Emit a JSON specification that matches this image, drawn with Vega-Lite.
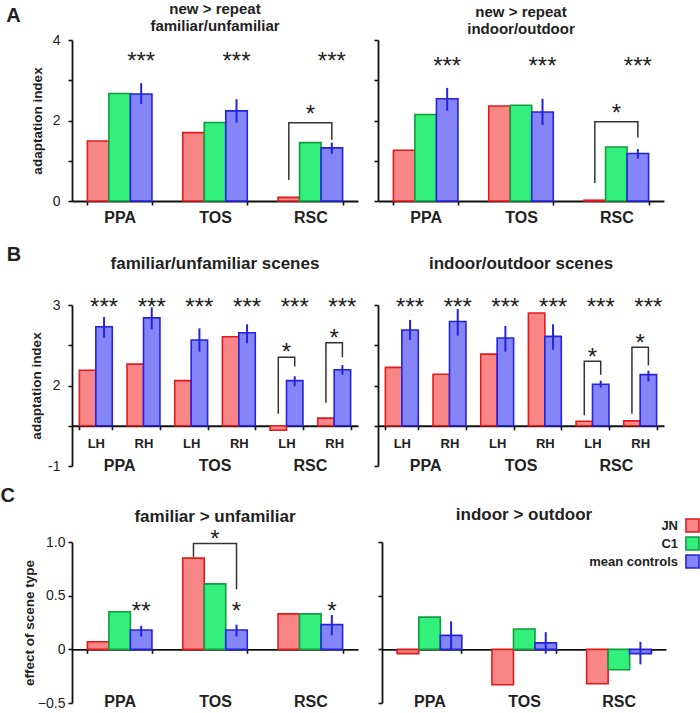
{
"$schema":"https://vega.github.io/schema/vega-lite/v6.json",
"padding":{"left":0,"top":2,"right":0,"bottom":0},
"background":"white",
"config":{"font":"Liberation Sans","view":{"stroke":null},
 "axis":{"grid":false,"domainColor":"#111","domainWidth":1.8,"tickColor":"#111","tickWidth":1.6,"tickSize":4,"labelColor":"#222","titleColor":"#222","labelFont":"Liberation Sans","titleFont":"Liberation Sans"},
 "title":{"font":"Liberation Sans","fontWeight":"bold","color":"#222"},
 "text":{"font":"Liberation Sans"}},
"datasets":{
 "aL":[{"roi":"PPA","s":"JN","v":1.49},{"roi":"PPA","s":"C1","v":2.67},{"roi":"PPA","s":"mean controls","v":2.66},{"roi":"TOS","s":"JN","v":1.70},{"roi":"TOS","s":"C1","v":1.95},{"roi":"TOS","s":"mean controls","v":2.24},{"roi":"RSC","s":"JN","v":0.09},{"roi":"RSC","s":"C1","v":1.45},{"roi":"RSC","s":"mean controls","v":1.32}],
 "aLe":[{"roi":"PPA","s":"mean controls","lo":2.41,"hi":2.93},{"roi":"TOS","s":"mean controls","lo":1.95,"hi":2.53},{"roi":"RSC","s":"mean controls","lo":1.17,"hi":1.45}],
 "aLs":[{"roi":"PPA","s":"mean controls","v":3.28,"t":"***"},{"roi":"TOS","s":"mean controls","v":3.28,"t":"***"},{"roi":"RSC","s":"mean controls","v":3.28,"t":"***"},{"roi":"RSC","s":"C1","v":1.97,"t":"*"}],
 "aLb":[{"roi":"RSC","s":"JN","v":0.52,"o":1},{"roi":"RSC","s":"JN","v":1.945,"o":2},{"roi":"RSC","s":"mean controls","v":1.945,"o":3},{"roi":"RSC","s":"mean controls","v":1.52,"o":4}],
 "aR":[{"roi":"PPA","s":"JN","v":1.26},{"roi":"PPA","s":"C1","v":2.15},{"roi":"PPA","s":"mean controls","v":2.54},{"roi":"TOS","s":"JN","v":2.36},{"roi":"TOS","s":"C1","v":2.38},{"roi":"TOS","s":"mean controls","v":2.21},{"roi":"RSC","s":"JN","v":0.02},{"roi":"RSC","s":"C1","v":1.34},{"roi":"RSC","s":"mean controls","v":1.18}],
 "aRe":[{"roi":"PPA","s":"mean controls","lo":2.24,"hi":2.81},{"roi":"TOS","s":"mean controls","lo":1.89,"hi":2.54},{"roi":"RSC","s":"mean controls","lo":1.05,"hi":1.29}],
 "aRs":[{"roi":"PPA","s":"mean controls","v":3.16,"t":"***"},{"roi":"TOS","s":"mean controls","v":3.16,"t":"***"},{"roi":"RSC","s":"mean controls","v":3.16,"t":"***"},{"roi":"RSC","s":"C1","v":1.99,"t":"*"}],
 "aRb":[{"roi":"RSC","s":"JN","v":0.45,"o":1},{"roi":"RSC","s":"JN","v":1.97,"o":2},{"roi":"RSC","s":"mean controls","v":1.97,"o":3},{"roi":"RSC","s":"mean controls","v":1.58,"o":4}],
 "bL":[{"rh":"PPA LH","s":"JN","v":1.38},{"rh":"PPA LH","s":"mean controls","v":2.46},{"rh":"PPA RH","s":"JN","v":1.53},{"rh":"PPA RH","s":"mean controls","v":2.68},{"rh":"TOS LH","s":"JN","v":1.12},{"rh":"TOS LH","s":"mean controls","v":2.13},{"rh":"TOS RH","s":"JN","v":2.21},{"rh":"TOS RH","s":"mean controls","v":2.31},{"rh":"RSC LH","s":"JN","v":-0.11},{"rh":"RSC LH","s":"mean controls","v":1.12},{"rh":"RSC RH","s":"JN","v":0.19},{"rh":"RSC RH","s":"mean controls","v":1.39}],
 "bLe":[{"rh":"PPA LH","s":"mean controls","lo":2.19,"hi":2.70},{"rh":"PPA RH","s":"mean controls","lo":2.40,"hi":2.94},{"rh":"TOS LH","s":"mean controls","lo":1.84,"hi":2.42},{"rh":"TOS RH","s":"mean controls","lo":2.05,"hi":2.52},{"rh":"RSC LH","s":"mean controls","lo":0.98,"hi":1.23},{"rh":"RSC RH","s":"mean controls","lo":1.27,"hi":1.51}],
 "bLs":[{"rh":"PPA LH","s":"mean controls","v":2.75,"t":"***"},{"rh":"PPA RH","s":"mean controls","v":2.75,"t":"***"},{"rh":"TOS LH","s":"mean controls","v":2.75,"t":"***"},{"rh":"TOS RH","s":"mean controls","v":2.75,"t":"***"},{"rh":"RSC LH","s":"mean controls","v":2.75,"t":"***"},{"rh":"RSC RH","s":"mean controls","v":2.75,"t":"***"}],
 "bLs2":[{"rh":"RSC LH","v":1.64,"t":"*"},{"rh":"RSC RH","v":1.98,"t":"*"}],
 "bLb":[{"rh":"RSC LH","s":"JN","v":0.30,"o":1,"g":"a"},{"rh":"RSC LH","s":"JN","v":1.70,"o":2,"g":"a"},{"rh":"RSC LH","s":"mean controls","v":1.70,"o":3,"g":"a"},{"rh":"RSC LH","s":"mean controls","v":1.47,"o":4,"g":"a"},{"rh":"RSC RH","s":"JN","v":0.57,"o":1,"g":"b"},{"rh":"RSC RH","s":"JN","v":2.06,"o":2,"g":"b"},{"rh":"RSC RH","s":"mean controls","v":2.06,"o":3,"g":"b"},{"rh":"RSC RH","s":"mean controls","v":1.70,"o":4,"g":"b"}],
 "bR":[{"rh":"PPA LH","s":"JN","v":1.45},{"rh":"PPA LH","s":"mean controls","v":2.38},{"rh":"PPA RH","s":"JN","v":1.28},{"rh":"PPA RH","s":"mean controls","v":2.59},{"rh":"TOS LH","s":"JN","v":1.78},{"rh":"TOS LH","s":"mean controls","v":2.18},{"rh":"TOS RH","s":"JN","v":2.80},{"rh":"TOS RH","s":"mean controls","v":2.22},{"rh":"RSC LH","s":"JN","v":0.11},{"rh":"RSC LH","s":"mean controls","v":1.03},{"rh":"RSC RH","s":"JN","v":0.12},{"rh":"RSC RH","s":"mean controls","v":1.27}],
 "bRe":[{"rh":"PPA LH","s":"mean controls","lo":2.13,"hi":2.63},{"rh":"PPA RH","s":"mean controls","lo":2.24,"hi":2.90},{"rh":"TOS LH","s":"mean controls","lo":1.84,"hi":2.48},{"rh":"TOS RH","s":"mean controls","lo":1.89,"hi":2.52},{"rh":"RSC LH","s":"mean controls","lo":0.95,"hi":1.12},{"rh":"RSC RH","s":"mean controls","lo":1.10,"hi":1.37}],
 "bRs":[{"rh":"PPA LH","s":"mean controls","v":2.75,"t":"***"},{"rh":"PPA RH","s":"mean controls","v":2.75,"t":"***"},{"rh":"TOS LH","s":"mean controls","v":2.75,"t":"***"},{"rh":"TOS RH","s":"mean controls","v":2.75,"t":"***"},{"rh":"RSC LH","s":"mean controls","v":2.75,"t":"***"},{"rh":"RSC RH","s":"mean controls","v":2.75,"t":"***"}],
 "bRs2":[{"rh":"RSC LH","v":1.50,"t":"*"},{"rh":"RSC RH","v":1.86,"t":"*"}],
 "bRb":[{"rh":"RSC LH","s":"JN","v":0.26,"o":1,"g":"a"},{"rh":"RSC LH","s":"JN","v":1.60,"o":2,"g":"a"},{"rh":"RSC LH","s":"mean controls","v":1.60,"o":3,"g":"a"},{"rh":"RSC LH","s":"mean controls","v":1.27,"o":4,"g":"a"},{"rh":"RSC RH","s":"JN","v":0.30,"o":1,"g":"b"},{"rh":"RSC RH","s":"JN","v":1.95,"o":2,"g":"b"},{"rh":"RSC RH","s":"mean controls","v":1.95,"o":3,"g":"b"},{"rh":"RSC RH","s":"mean controls","v":1.50,"o":4,"g":"b"}],
 "roi":[{"roi":"PPA"},{"roi":"TOS"},{"roi":"RSC"}],
 "cL":[{"roi":"PPA","s":"JN","v":0.07},{"roi":"PPA","s":"C1","v":0.35},{"roi":"PPA","s":"mean controls","v":0.18},{"roi":"TOS","s":"JN","v":0.85},{"roi":"TOS","s":"C1","v":0.61},{"roi":"TOS","s":"mean controls","v":0.18},{"roi":"RSC","s":"JN","v":0.33},{"roi":"RSC","s":"C1","v":0.33},{"roi":"RSC","s":"mean controls","v":0.23}],
 "cLe":[{"roi":"PPA","s":"mean controls","lo":0.12,"hi":0.22},{"roi":"TOS","s":"mean controls","lo":0.12,"hi":0.23},{"roi":"RSC","s":"mean controls","lo":0.13,"hi":0.32}],
 "cLs":[{"roi":"PPA","s":"mean controls","v":0.28,"t":"**"},{"roi":"TOS","s":"mean controls","v":0.28,"t":"*"},{"roi":"RSC","s":"mean controls","v":0.28,"t":"*"},{"roi":"TOS","s":"C1","v":0.95,"t":"*"}],
 "cLb":[{"roi":"TOS","s":"JN","v":0.86,"o":1},{"roi":"TOS","s":"JN","v":0.985,"o":2},{"roi":"TOS","s":"mean controls","v":0.985,"o":3},{"roi":"TOS","s":"mean controls","v":0.56,"o":4}],
 "cR":[{"roi":"PPA","s":"JN","v":-0.04},{"roi":"PPA","s":"C1","v":0.30},{"roi":"PPA","s":"mean controls","v":0.13},{"roi":"TOS","s":"JN","v":-0.33},{"roi":"TOS","s":"C1","v":0.19},{"roi":"TOS","s":"mean controls","v":0.06},{"roi":"RSC","s":"JN","v":-0.32},{"roi":"RSC","s":"C1","v":-0.19},{"roi":"RSC","s":"mean controls","v":-0.04}],
 "cRe":[{"roi":"PPA","s":"mean controls","lo":0.0,"hi":0.26},{"roi":"TOS","s":"mean controls","lo":-0.04,"hi":0.16},{"roi":"RSC","s":"mean controls","lo":-0.14,"hi":0.07}]
},
"vconcat":[
 {"spacing":20,"vconcat":[
 {"title":{"text":"A","orient":"left","anchor":"end","angle":0,"align":"right","baseline":"top","fontSize":20,"offset":-5,"dy":4},
  "resolve":{"scale":{"fill":"independent","stroke":"independent"}},
  "spacing":15,
  "hconcat":[
  {"width":286,"height":161,
   "title":{"text":["new > repeat","familiar/unfamiliar"],"fontSize":15,"lineHeight":17,"offset":-1},
   "layer":[
    {"data":{"name":"aL"},"mark":{"type":"bar","strokeWidth":1.6},
     "encoding":{
      "x":{"field":"roi","type":"nominal","scale":{"domain":["PPA","TOS","RSC"],"paddingInner":0.323,"paddingOuter":0.1615},"axis":{"title":null,"labelAngle":0,"labelFontSize":16,"labelFontWeight":"bold","tickBand":"extent","labelPadding":4}},
      "xOffset":{"field":"s","type":"nominal","scale":{"domain":["JN","C1","mean controls"],"paddingInner":0,"paddingOuter":0}},
      "y":{"field":"v","type":"quantitative","scale":{"domain":[0,4],"nice":false,"zero":false},"axis":{"title":"adaptation index","values":[0,1,2,3,4],"labelExpr":"datum.value%2==0?datum.label:''","titlePadding":8,"labelPadding":8,"labelFontSize":14,"titleFontSize":13.5,"titleFontWeight":"bold"}},
      "fill":{"field":"s","type":"nominal","scale":{"domain":["JN","C1","mean controls"],"range":["#f98686","#33ef7b","#8585f8"]},"legend":null},
      "stroke":{"field":"s","type":"nominal","scale":{"domain":["JN","C1","mean controls"],"range":["#e31a1c","#119c3f","#2323dd"]},"legend":null}}},
    {"data":{"name":"aLe"},"mark":{"type":"rule","color":"#2323dd","strokeWidth":2},"encoding":{"x":{"field":"roi","type":"nominal"},"xOffset":{"field":"s","type":"nominal"},"y":{"field":"lo","type":"quantitative"},"y2":{"field":"hi"}}},
    {"data":{"name":"aLs"},"mark":{"type":"text","fontSize":24,"baseline":"alphabetic","color":"#222"},"encoding":{"x":{"field":"roi","type":"nominal"},"xOffset":{"field":"s","type":"nominal"},"y":{"field":"v","type":"quantitative"},"text":{"field":"t"}}},
    {"data":{"name":"aLb"},"mark":{"type":"line","color":"#333","strokeWidth":1.5},"encoding":{"x":{"field":"roi","type":"nominal"},"xOffset":{"field":"s","type":"nominal"},"y":{"field":"v","type":"quantitative"},"order":{"field":"o"}}}
   ]},
  {"width":286,"height":161,
   "title":{"text":["new > repeat","indoor/outdoor"],"fontSize":15,"lineHeight":17,"offset":2},
   "layer":[
    {"data":{"name":"aR"},"mark":{"type":"bar","strokeWidth":1.6},
     "encoding":{
      "x":{"field":"roi","type":"nominal","scale":{"domain":["PPA","TOS","RSC"],"paddingInner":0.323,"paddingOuter":0.1615},"axis":{"title":null,"labelAngle":0,"labelFontSize":16,"labelFontWeight":"bold","tickBand":"extent","labelPadding":4}},
      "xOffset":{"field":"s","type":"nominal","scale":{"domain":["JN","C1","mean controls"],"paddingInner":0,"paddingOuter":0}},
      "y":{"field":"v","type":"quantitative","scale":{"domain":[0,4],"nice":false,"zero":false},"axis":{"title":null,"labels":false,"values":[0,1,2,3,4]}},
      "fill":{"field":"s","type":"nominal","scale":{"domain":["JN","C1","mean controls"],"range":["#f98686","#33ef7b","#8585f8"]},"legend":null},
      "stroke":{"field":"s","type":"nominal","scale":{"domain":["JN","C1","mean controls"],"range":["#e31a1c","#119c3f","#2323dd"]},"legend":null}}},
    {"data":{"name":"aRe"},"mark":{"type":"rule","color":"#2323dd","strokeWidth":2},"encoding":{"x":{"field":"roi","type":"nominal"},"xOffset":{"field":"s","type":"nominal"},"y":{"field":"lo","type":"quantitative"},"y2":{"field":"hi"}}},
    {"data":{"name":"aRs"},"mark":{"type":"text","fontSize":24,"baseline":"alphabetic","color":"#222"},"encoding":{"x":{"field":"roi","type":"nominal"},"xOffset":{"field":"s","type":"nominal"},"y":{"field":"v","type":"quantitative"},"text":{"field":"t"}}},
    {"data":{"name":"aRb"},"mark":{"type":"line","color":"#333","strokeWidth":1.5},"encoding":{"x":{"field":"roi","type":"nominal"},"xOffset":{"field":"s","type":"nominal"},"y":{"field":"v","type":"quantitative"},"order":{"field":"o"}}}
   ]}
 ]},
 {"title":{"text":"B","orient":"left","anchor":"end","angle":0,"align":"right","baseline":"top","fontSize":20,"offset":-6,"dy":-10},
  "resolve":{"scale":{"fill":"independent","stroke":"independent"}},
  "spacing":15,
  "hconcat":[
  {"width":286,"height":161,
   "title":{"text":"familiar/unfamiliar scenes","fontSize":17,"offset":23},
   "resolve":{"scale":{"x":"independent","xOffset":"independent"}},
   "layer":[
    {"layer":[
     {"data":{"name":"bL"},"mark":{"type":"bar","strokeWidth":1.6},
      "encoding":{
       "x":{"field":"rh","type":"nominal","scale":{"domain":["PPA LH","PPA RH","TOS LH","TOS RH","RSC LH","RSC RH"],"paddingInner":0.31,"paddingOuter":0.155},"axis":{"title":null,"labelAngle":0,"labelFontSize":13,"labelFontWeight":"bold","tickBand":"extent","labelPadding":8,"offset":-40.25,"labelExpr":"split(datum.label,' ')[1]"}},
       "xOffset":{"field":"s","type":"nominal","scale":{"domain":["JN","mean controls"],"paddingInner":0,"paddingOuter":0}},
       "y":{"field":"v","type":"quantitative","scale":{"domain":[-1,3],"nice":false,"zero":false},"axis":{"title":"adaptation index","values":[-1,0,1,2,3],"labelExpr":"datum.value==3?'3':datum.value==1?'2':datum.value==-1?'-1':''","titlePadding":4,"labelPadding":8,"labelFontSize":14,"titleFontSize":13.5,"titleFontWeight":"bold"}},
       "fill":{"field":"s","type":"nominal","scale":{"domain":["JN","C1","mean controls"],"range":["#f98686","#33ef7b","#8585f8"]},"legend":null},
       "stroke":{"field":"s","type":"nominal","scale":{"domain":["JN","C1","mean controls"],"range":["#e31a1c","#119c3f","#2323dd"]},"legend":null}}},
     {"data":{"name":"bLe"},"mark":{"type":"rule","color":"#2323dd","strokeWidth":2},"encoding":{"x":{"field":"rh","type":"nominal"},"xOffset":{"field":"s","type":"nominal"},"y":{"field":"lo","type":"quantitative"},"y2":{"field":"hi"}}},
     {"data":{"name":"bLs"},"mark":{"type":"text","fontSize":24,"baseline":"alphabetic","color":"#222"},"encoding":{"x":{"field":"rh","type":"nominal"},"xOffset":{"field":"s","type":"nominal"},"y":{"field":"v","type":"quantitative"},"text":{"field":"t"}}},
     {"data":{"name":"bLs2"},"mark":{"type":"text","fontSize":24,"baseline":"alphabetic","color":"#222"},"encoding":{"x":{"field":"rh","type":"nominal"},"y":{"field":"v","type":"quantitative"},"text":{"field":"t"}}},
     {"data":{"name":"bLb"},"mark":{"type":"line","color":"#333","strokeWidth":1.5},"encoding":{"x":{"field":"rh","type":"nominal"},"xOffset":{"field":"s","type":"nominal"},"y":{"field":"v","type":"quantitative"},"detail":{"field":"g"},"order":{"field":"o"}}}
    ]},
    {"data":{"name":"roi"},"mark":{"type":"text","fontSize":16,"fontWeight":"bold","baseline":"middle","color":"#222"},"encoding":{"x":{"field":"roi","type":"nominal","scale":{"domain":["PPA","TOS","RSC"],"paddingInner":0,"paddingOuter":0},"axis":null},"y":{"datum":-1.0},"text":{"field":"roi"}}}
   ]},
  {"width":286,"height":161,
   "title":{"text":"indoor/outdoor scenes","fontSize":17,"offset":23},
   "resolve":{"scale":{"x":"independent","xOffset":"independent"}},
   "layer":[
    {"layer":[
     {"data":{"name":"bR"},"mark":{"type":"bar","strokeWidth":1.6},
      "encoding":{
       "x":{"field":"rh","type":"nominal","scale":{"domain":["PPA LH","PPA RH","TOS LH","TOS RH","RSC LH","RSC RH"],"paddingInner":0.31,"paddingOuter":0.155},"axis":{"title":null,"labelAngle":0,"labelFontSize":13,"labelFontWeight":"bold","tickBand":"extent","labelPadding":8,"offset":-40.25,"labelExpr":"split(datum.label,' ')[1]"}},
       "xOffset":{"field":"s","type":"nominal","scale":{"domain":["JN","mean controls"],"paddingInner":0,"paddingOuter":0}},
       "y":{"field":"v","type":"quantitative","scale":{"domain":[-1,3],"nice":false,"zero":false},"axis":{"title":null,"labels":false,"values":[-1,0,1,2,3]}},
       "fill":{"field":"s","type":"nominal","scale":{"domain":["JN","C1","mean controls"],"range":["#f98686","#33ef7b","#8585f8"]},"legend":null},
       "stroke":{"field":"s","type":"nominal","scale":{"domain":["JN","C1","mean controls"],"range":["#e31a1c","#119c3f","#2323dd"]},"legend":null}}},
     {"data":{"name":"bRe"},"mark":{"type":"rule","color":"#2323dd","strokeWidth":2},"encoding":{"x":{"field":"rh","type":"nominal"},"xOffset":{"field":"s","type":"nominal"},"y":{"field":"lo","type":"quantitative"},"y2":{"field":"hi"}}},
     {"data":{"name":"bRs"},"mark":{"type":"text","fontSize":24,"baseline":"alphabetic","color":"#222"},"encoding":{"x":{"field":"rh","type":"nominal"},"xOffset":{"field":"s","type":"nominal"},"y":{"field":"v","type":"quantitative"},"text":{"field":"t"}}},
     {"data":{"name":"bRs2"},"mark":{"type":"text","fontSize":24,"baseline":"alphabetic","color":"#222"},"encoding":{"x":{"field":"rh","type":"nominal"},"y":{"field":"v","type":"quantitative"},"text":{"field":"t"}}},
     {"data":{"name":"bRb"},"mark":{"type":"line","color":"#333","strokeWidth":1.5},"encoding":{"x":{"field":"rh","type":"nominal"},"xOffset":{"field":"s","type":"nominal"},"y":{"field":"v","type":"quantitative"},"detail":{"field":"g"},"order":{"field":"o"}}}
    ]},
    {"data":{"name":"roi"},"mark":{"type":"text","fontSize":16,"fontWeight":"bold","baseline":"middle","color":"#222"},"encoding":{"x":{"field":"roi","type":"nominal","scale":{"domain":["PPA","TOS","RSC"],"paddingInner":0,"paddingOuter":0},"axis":null},"y":{"datum":-1.0},"text":{"field":"roi"}}}
   ]}
 ]}
 ]},
 {"title":{"text":"C","orient":"left","anchor":"end","angle":0,"align":"right","baseline":"top","fontSize":20,"offset":-7,"dy":-20},
  "resolve":{"scale":{"fill":"independent","stroke":"independent"}},
  "spacing":19,
  "hconcat":[
  {"width":286,"height":161,
   "title":{"text":"familiar > unfamiliar","fontSize":17,"offset":2},
   "layer":[
    {"data":{"name":"cL"},"mark":{"type":"bar","strokeWidth":1.6},
     "encoding":{
      "x":{"field":"roi","type":"nominal","scale":{"domain":["PPA","TOS","RSC"],"paddingInner":0.323,"paddingOuter":0.1615},"axis":{"title":null,"labelAngle":0,"labelFontSize":16,"labelFontWeight":"bold","tickBand":"extent","labelPadding":40,"offset":-53.67}},
      "xOffset":{"field":"s","type":"nominal","scale":{"domain":["JN","C1","mean controls"],"paddingInner":0,"paddingOuter":0}},
      "y":{"field":"v","type":"quantitative","scale":{"domain":[-0.5,1],"nice":false,"zero":false},"axis":{"title":"effect of scene type","values":[-0.5,0,0.5,1],"labelExpr":"datum.value==0?'0':format(datum.value,'.1f')","titlePadding":1,"labelPadding":3,"labelFontSize":14,"titleFontSize":13.5,"titleFontWeight":"bold"}},
      "fill":{"field":"s","type":"nominal","scale":{"domain":["JN","C1","mean controls"],"range":["#f98686","#33ef7b","#8585f8"]},"legend":null},
      "stroke":{"field":"s","type":"nominal","scale":{"domain":["JN","C1","mean controls"],"range":["#e31a1c","#119c3f","#2323dd"]},"legend":null}}},
    {"data":{"name":"cLe"},"mark":{"type":"rule","color":"#2323dd","strokeWidth":2},"encoding":{"x":{"field":"roi","type":"nominal"},"xOffset":{"field":"s","type":"nominal"},"y":{"field":"lo","type":"quantitative"},"y2":{"field":"hi"}}},
    {"data":{"name":"cLs"},"mark":{"type":"text","fontSize":24,"baseline":"alphabetic","color":"#222"},"encoding":{"x":{"field":"roi","type":"nominal"},"xOffset":{"field":"s","type":"nominal"},"y":{"field":"v","type":"quantitative"},"text":{"field":"t"}}},
    {"data":{"name":"cLb"},"mark":{"type":"line","color":"#333","strokeWidth":1.5},"encoding":{"x":{"field":"roi","type":"nominal"},"xOffset":{"field":"s","type":"nominal"},"y":{"field":"v","type":"quantitative"},"order":{"field":"o"}}}
   ]},
  {"width":284,"height":161,
   "title":{"text":"indoor > outdoor","fontSize":17,"offset":-6},
   "layer":[
    {"data":{"name":"cR"},"mark":{"type":"bar","strokeWidth":1.6},
     "encoding":{
      "x":{"field":"roi","type":"nominal","scale":{"domain":["PPA","TOS","RSC"],"paddingInner":0.323,"paddingOuter":0.1615},"axis":{"title":null,"labelAngle":0,"labelFontSize":16,"labelFontWeight":"bold","tickBand":"extent","labelPadding":40,"offset":-53.67}},
      "xOffset":{"field":"s","type":"nominal","scale":{"domain":["JN","C1","mean controls"],"paddingInner":0,"paddingOuter":0}},
      "y":{"field":"v","type":"quantitative","scale":{"domain":[-0.5,1],"nice":false,"zero":false},"axis":{"title":null,"labels":false,"values":[-0.5,0,0.5,1]}},
      "fill":{"field":"s","type":"nominal","scale":{"domain":["JN","C1","mean controls"],"range":["#f98686","#33ef7b","#8585f8"]},"legend":{"orient":"none","legendX":303,"legendY":-24,"title":null,"labelAlign":"right","labelOffset":-22,"labelFontSize":13,"labelFontWeight":"bold","labelColor":"#222","symbolType":"square","symbolSize":170,"symbolStrokeWidth":1.6,"rowPadding":-9}},
      "stroke":{"field":"s","type":"nominal","scale":{"domain":["JN","C1","mean controls"],"range":["#e31a1c","#119c3f","#2323dd"]},"legend":{"orient":"none","legendX":303,"legendY":-24,"title":null,"labelAlign":"right","labelOffset":-22,"labelFontSize":13,"labelFontWeight":"bold","labelColor":"#222","symbolType":"square","symbolSize":170,"symbolStrokeWidth":1.6,"rowPadding":-9}}}},
    {"data":{"name":"cRe"},"mark":{"type":"rule","color":"#2323dd","strokeWidth":2},"encoding":{"x":{"field":"roi","type":"nominal"},"xOffset":{"field":"s","type":"nominal"},"y":{"field":"lo","type":"quantitative"},"y2":{"field":"hi"}}}
   ]}
 ]}
],
"spacing":12
}
